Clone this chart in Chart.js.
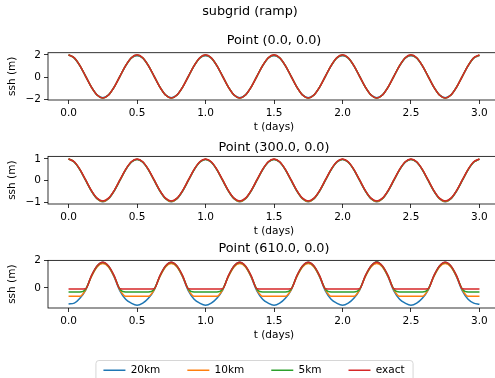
<!DOCTYPE html>
<html>
<head>
<meta charset="utf-8">
<script src="https://cdn.jsdelivr.net/npm/chart.js@4"></script>
<style>
  html, body { margin: 0; padding: 0; width: 495px; height: 378px; overflow: hidden; background: #fff; }
  canvas { position: absolute; }
</style>
</head>
<body>
<canvas id="p0" width="500" height="140" style="left:0px;top:0px"></canvas>
<canvas id="p1" width="500" height="104" style="left:0px;top:140px"></canvas>
<canvas id="p2" width="500" height="108" style="left:0px;top:240px"></canvas>
<canvas id="leg" width="480" height="80" style="left:14px;top:338px"></canvas>
<script>
// time axis (days)
const days = [
  0, 0.042, 0.083, 0.125, 0.167, 0.208, 0.25, 0.292, 0.333, 0.375, 0.417, 0.458,
  0.5, 0.542, 0.583, 0.625, 0.667, 0.708, 0.75, 0.792, 0.833, 0.875, 0.917, 0.958,
  1, 1.042, 1.083, 1.125, 1.167, 1.208, 1.25, 1.292, 1.333, 1.375, 1.417, 1.458,
  1.5, 1.542, 1.583, 1.625, 1.667, 1.708, 1.75, 1.792, 1.833, 1.875, 1.917, 1.958,
  2, 2.042, 2.083, 2.125, 2.167, 2.208, 2.25, 2.292, 2.333, 2.375, 2.417, 2.458,
  2.5, 2.542, 2.583, 2.625, 2.667, 2.708, 2.75, 2.792, 2.833, 2.875, 2.917, 2.958,
  3
];
const xTicks = [0, 0.5, 1, 1.5, 2, 2.5, 3];
const seriesNames = ['20km', '10km', '5km', 'exact'];
const panelTitles = ['Point (0.0, 0.0)', 'Point (300.0, 0.0)', 'Point (610.0, 0.0)'];
const yTicks0 = [-2, 0, 2];
const yTicks300 = [-1, 0, 1];
const yTicks610 = [0, 2];

// Point (0.0, 0.0)
const ssh0_20km = [
  2.0, 1.7, 1.02, 0.07, -0.89, -1.58, -1.84, -1.58, -0.89, 0.07, 1.02, 1.7,
  1.93, 1.7, 1.02, 0.07, -0.89, -1.58, -1.84, -1.58, -0.89, 0.07, 1.02, 1.7,
  1.93, 1.7, 1.02, 0.07, -0.89, -1.58, -1.84, -1.58, -0.89, 0.07, 1.02, 1.7,
  1.93, 1.7, 1.02, 0.07, -0.89, -1.58, -1.84, -1.58, -0.89, 0.07, 1.02, 1.7,
  1.93, 1.7, 1.02, 0.07, -0.89, -1.58, -1.84, -1.58, -0.89, 0.07, 1.02, 1.7,
  1.93, 1.7, 1.02, 0.07, -0.89, -1.58, -1.84, -1.58, -0.89, 0.07, 1.02, 1.7,
  1.93
];
const ssh0_10km = [
  2.0, 1.72, 1.03, 0.08, -0.89, -1.59, -1.85, -1.59, -0.89, 0.07, 1.03, 1.72,
  1.96, 1.72, 1.03, 0.08, -0.89, -1.59, -1.85, -1.59, -0.89, 0.07, 1.03, 1.72,
  1.96, 1.72, 1.03, 0.08, -0.89, -1.59, -1.85, -1.59, -0.89, 0.07, 1.03, 1.72,
  1.96, 1.72, 1.03, 0.08, -0.89, -1.59, -1.85, -1.59, -0.89, 0.07, 1.03, 1.72,
  1.96, 1.72, 1.03, 0.08, -0.89, -1.59, -1.85, -1.59, -0.89, 0.07, 1.03, 1.72,
  1.96, 1.72, 1.03, 0.08, -0.89, -1.59, -1.85, -1.59, -0.89, 0.07, 1.03, 1.72,
  1.96
];
const ssh0_5km = [
  2.0, 1.73, 1.04, 0.08, -0.89, -1.59, -1.85, -1.59, -0.89, 0.08, 1.03, 1.73,
  1.98, 1.73, 1.04, 0.08, -0.89, -1.59, -1.85, -1.59, -0.89, 0.08, 1.03, 1.73,
  1.98, 1.73, 1.04, 0.08, -0.89, -1.59, -1.85, -1.59, -0.89, 0.08, 1.03, 1.73,
  1.98, 1.73, 1.04, 0.08, -0.89, -1.59, -1.85, -1.59, -0.89, 0.08, 1.03, 1.73,
  1.98, 1.73, 1.04, 0.08, -0.89, -1.59, -1.85, -1.59, -0.89, 0.08, 1.03, 1.73,
  1.98, 1.73, 1.04, 0.08, -0.89, -1.59, -1.85, -1.59, -0.89, 0.08, 1.03, 1.73,
  1.97
];
const ssh0_exact = [
  2.0, 1.74, 1.04, 0.08, -0.89, -1.59, -1.85, -1.59, -0.89, 0.08, 1.04, 1.74,
  2.0, 1.74, 1.04, 0.08, -0.89, -1.59, -1.85, -1.59, -0.89, 0.08, 1.04, 1.74,
  2.0, 1.74, 1.04, 0.08, -0.89, -1.59, -1.85, -1.59, -0.89, 0.08, 1.04, 1.74,
  2.0, 1.74, 1.04, 0.08, -0.89, -1.59, -1.85, -1.59, -0.89, 0.08, 1.04, 1.74,
  2.0, 1.74, 1.04, 0.08, -0.89, -1.59, -1.85, -1.59, -0.89, 0.08, 1.04, 1.74,
  2.0, 1.74, 1.04, 0.08, -0.89, -1.59, -1.85, -1.59, -0.89, 0.08, 1.04, 1.74,
  2.0
];

// Point (300.0, 0.0)
const ssh300_20km = [
  1.0, 0.85, 0.5, 0.01, -0.48, -0.84, -0.98, -0.84, -0.48, 0.01, 0.5, 0.85,
  0.98, 0.85, 0.5, 0.01, -0.48, -0.84, -0.98, -0.84, -0.48, 0.01, 0.5, 0.85,
  0.98, 0.85, 0.5, 0.01, -0.48, -0.84, -0.98, -0.84, -0.48, 0.01, 0.5, 0.85,
  0.98, 0.85, 0.5, 0.01, -0.48, -0.84, -0.98, -0.84, -0.48, 0.01, 0.5, 0.85,
  0.98, 0.85, 0.5, 0.01, -0.48, -0.84, -0.98, -0.84, -0.48, 0.01, 0.5, 0.85,
  0.98, 0.85, 0.5, 0.01, -0.48, -0.84, -0.98, -0.84, -0.48, 0.01, 0.5, 0.85,
  0.98
];
const ssh300_10km = [
  1.0, 0.86, 0.51, 0.02, -0.47, -0.83, -0.96, -0.83, -0.47, 0.02, 0.51, 0.86,
  0.99, 0.86, 0.51, 0.02, -0.47, -0.83, -0.96, -0.83, -0.47, 0.02, 0.51, 0.86,
  0.99, 0.86, 0.51, 0.02, -0.47, -0.83, -0.96, -0.83, -0.47, 0.02, 0.51, 0.86,
  0.99, 0.86, 0.51, 0.02, -0.47, -0.83, -0.96, -0.83, -0.47, 0.02, 0.51, 0.86,
  0.99, 0.86, 0.51, 0.02, -0.47, -0.83, -0.96, -0.83, -0.47, 0.02, 0.51, 0.86,
  0.99, 0.86, 0.51, 0.02, -0.47, -0.83, -0.96, -0.83, -0.47, 0.02, 0.51, 0.86,
  0.99
];
const ssh300_5km = [
  1.0, 0.86, 0.51, 0.02, -0.47, -0.82, -0.95, -0.82, -0.47, 0.02, 0.51, 0.86,
  0.99, 0.86, 0.51, 0.02, -0.47, -0.82, -0.95, -0.82, -0.47, 0.02, 0.51, 0.86,
  0.99, 0.86, 0.51, 0.02, -0.47, -0.82, -0.95, -0.82, -0.47, 0.02, 0.51, 0.86,
  0.99, 0.86, 0.51, 0.02, -0.47, -0.82, -0.95, -0.82, -0.47, 0.02, 0.51, 0.86,
  0.99, 0.86, 0.51, 0.02, -0.47, -0.82, -0.95, -0.82, -0.47, 0.02, 0.51, 0.86,
  0.99, 0.86, 0.51, 0.02, -0.47, -0.82, -0.95, -0.82, -0.47, 0.02, 0.51, 0.86,
  0.99
];
const ssh300_exact = [
  1.0, 0.87, 0.52, 0.03, -0.46, -0.81, -0.94, -0.81, -0.46, 0.03, 0.52, 0.87,
  1.0, 0.87, 0.52, 0.03, -0.46, -0.81, -0.94, -0.81, -0.46, 0.03, 0.52, 0.87,
  1.0, 0.87, 0.52, 0.03, -0.46, -0.81, -0.94, -0.81, -0.46, 0.03, 0.52, 0.87,
  1.0, 0.87, 0.52, 0.03, -0.46, -0.81, -0.94, -0.81, -0.46, 0.03, 0.52, 0.87,
  1.0, 0.87, 0.52, 0.03, -0.46, -0.81, -0.94, -0.81, -0.46, 0.03, 0.52, 0.87,
  1.0, 0.87, 0.52, 0.03, -0.46, -0.81, -0.94, -0.81, -0.46, 0.03, 0.52, 0.87,
  1.0
];

// Point (610.0, 0.0)
const ssh610_20km = [
  -1.16, -1.1, -0.75, -0.15, 0.85, 1.57, 1.86, 1.55, 0.8, -0.22, -0.82, -1.1,
  -1.25, -1.1, -0.75, -0.15, 0.85, 1.57, 1.86, 1.55, 0.8, -0.22, -0.82, -1.1,
  -1.25, -1.1, -0.75, -0.15, 0.85, 1.57, 1.86, 1.55, 0.8, -0.22, -0.82, -1.1,
  -1.25, -1.1, -0.75, -0.15, 0.85, 1.57, 1.86, 1.55, 0.8, -0.22, -0.82, -1.1,
  -1.25, -1.1, -0.75, -0.15, 0.85, 1.57, 1.9, 1.55, 0.8, -0.22, -0.82, -1.1,
  -1.25, -1.1, -0.75, -0.15, 0.85, 1.57, 1.86, 1.55, 0.8, -0.22, -0.82, -1.1,
  -1.18
];
const ssh610_10km = [
  -0.6, -0.6, -0.6, -0.13, 0.82, 1.52, 1.77, 1.52, 0.82, -0.13, -0.6, -0.6,
  -0.6, -0.6, -0.6, -0.13, 0.82, 1.52, 1.77, 1.52, 0.82, -0.13, -0.6, -0.6,
  -0.6, -0.6, -0.6, -0.13, 0.82, 1.52, 1.77, 1.52, 0.82, -0.13, -0.6, -0.6,
  -0.6, -0.6, -0.6, -0.13, 0.82, 1.52, 1.77, 1.52, 0.82, -0.13, -0.6, -0.6,
  -0.6, -0.6, -0.6, -0.13, 0.82, 1.52, 1.77, 1.52, 0.82, -0.13, -0.6, -0.6,
  -0.6, -0.6, -0.6, -0.13, 0.82, 1.52, 1.77, 1.52, 0.82, -0.13, -0.6, -0.6,
  -0.6
];
const ssh610_5km = [
  -0.29, -0.29, -0.29, -0.08, 0.87, 1.57, 1.84, 1.57, 0.87, -0.08, -0.29, -0.29,
  -0.29, -0.29, -0.29, -0.08, 0.87, 1.57, 1.84, 1.57, 0.87, -0.08, -0.29, -0.29,
  -0.29, -0.29, -0.29, -0.08, 0.87, 1.57, 1.84, 1.57, 0.87, -0.08, -0.29, -0.29,
  -0.29, -0.29, -0.29, -0.08, 0.87, 1.57, 1.84, 1.57, 0.87, -0.08, -0.29, -0.29,
  -0.29, -0.29, -0.29, -0.08, 0.87, 1.57, 1.88, 1.57, 0.87, -0.08, -0.29, -0.29,
  -0.29, -0.29, -0.29, -0.08, 0.87, 1.57, 1.84, 1.57, 0.87, -0.08, -0.29, -0.29,
  -0.29
];
const ssh610_exact = [
  -0.07, -0.07, -0.07, -0.05, 0.9, 1.6, 1.86, 1.6, 0.9, -0.05, -0.07, -0.07,
  -0.07, -0.07, -0.07, -0.05, 0.9, 1.6, 1.86, 1.6, 0.9, -0.05, -0.07, -0.07,
  -0.07, -0.07, -0.07, -0.05, 0.9, 1.6, 1.86, 1.6, 0.9, -0.05, -0.07, -0.07,
  -0.07, -0.07, -0.07, -0.05, 0.9, 1.6, 1.86, 1.6, 0.9, -0.05, -0.07, -0.07,
  -0.07, -0.07, -0.07, -0.05, 0.9, 1.6, 1.86, 1.6, 0.9, -0.05, -0.07, -0.07,
  -0.07, -0.07, -0.07, -0.05, 0.9, 1.6, 1.86, 1.6, 0.9, -0.05, -0.07, -0.07,
  -0.07
];

Chart.defaults.font.family = "'DejaVu Sans', sans-serif";
Chart.defaults.font.size = 10.5;
Chart.defaults.color = '#000';

const colors = ['#1f77b4', '#ff7f0e', '#2ca02c', '#d62728'];
const titleFont = { size: 12.8, weight: 'normal' };

// box around each axes (matplotlib spines)
const frame = {
  id: 'frame',
  afterDraw(chart) {
    const { ctx, chartArea: a } = chart;
    ctx.save();
    ctx.strokeStyle = '#000';
    ctx.lineWidth = 0.8;
    ctx.strokeRect(a.left, a.top, a.right - a.left, a.bottom - a.top);
    ctx.restore();
  }
};

function makePanel(id, lines, yMin, yMax, yTicks, plugins) {
  const datasets = seriesNames.map((name, i) => ({
    label: name,
    data: days.map((d, k) => ({ x: d, y: lines[i][k] })),
    borderColor: colors[i],
    backgroundColor: colors[i],
    borderWidth: 1.5,
    pointRadius: 0,
    cubicInterpolationMode: 'monotone',
    order: seriesNames.length - 1 - i
  }));
  return new Chart(document.getElementById(id), {
    type: 'line',
    data: { datasets },
    options: {
      responsive: false,
      animation: false,
      events: [],
      layout: { padding: 0 },
      plugins: Object.assign({ legend: { display: false }, tooltip: { enabled: false } }, plugins),
      scales: {
        x: {
          type: 'linear', min: -0.15, max: 3.15,
          afterBuildTicks: s => { s.ticks = xTicks.map(v => ({ value: v })); },
          afterFit: s => { s.height = 40; },
          grid: { drawOnChartArea: false, tickLength: 4, color: '#000', lineWidth: 0.8 },
          border: { display: false },
          ticks: { padding: 3, maxRotation: 0, callback: v => v.toFixed(1) },
          title: { display: true, text: 't (days)', padding: { top: 0, bottom: 6 } }
        },
        y: {
          min: yMin, max: yMax,
          afterBuildTicks: s => { s.ticks = yTicks.map(v => ({ value: v })); },
          afterFit: s => { s.width = 48; },
          grid: { drawOnChartArea: false, tickLength: 4, color: '#000', lineWidth: 0.8 },
          border: { display: false },
          ticks: { padding: 3, callback: v => (v < 0 ? '\u2212' + Math.abs(v) : String(v)) },
          title: { display: true, text: 'ssh (m)', padding: { top: 6, bottom: 0 } }
        }
      }
    },
    plugins: [frame]
  });
}

makePanel('p0', [ssh0_20km, ssh0_10km, ssh0_5km, ssh0_exact], -2.04, 2.19, yTicks0, {
  title: { display: true, text: 'subgrid (ramp)', font: titleFont, padding: { top: 4, bottom: 12 } },
  subtitle: { display: true, text: panelTitles[0], fullSize: false, font: titleFont, color: '#000', padding: { top: 2, bottom: 4 } }
});
makePanel('p1', [ssh300_20km, ssh300_10km, ssh300_5km, ssh300_exact], -1.08, 1.12, yTicks300, {
  title: { display: true, text: panelTitles[1], fullSize: false, font: titleFont, padding: { top: 0, bottom: 1 } }
});
makePanel('p2', [ssh610_20km, ssh610_10km, ssh610_5km, ssh610_exact], -1.45, 2.0, yTicks610, {
  title: { display: true, text: panelTitles[2], fullSize: false, font: titleFont, padding: { top: 1, bottom: 4 } }
});

// legend frame, drawn behind the legend entries
const legendFrame = {
  id: 'legendFrame',
  beforeDraw(chart) {
    const boxes = chart.legend.legendHitBoxes;
    if (!boxes || !boxes.length) return;
    const first = boxes[0], last = boxes[boxes.length - 1];
    const x0 = first.left - 8, x1 = last.left + last.width + 8;
    const y0 = first.top - 5, y1 = first.top + first.height + 20;
    const ctx = chart.ctx;
    ctx.save();
    ctx.beginPath();
    if (ctx.roundRect) ctx.roundRect(x0 + 0.5, y0 + 0.5, x1 - x0, y1 - y0, 3);
    else ctx.rect(x0 + 0.5, y0 + 0.5, x1 - x0, y1 - y0);
    ctx.fillStyle = 'rgba(255,255,255,0.8)';
    ctx.fill();
    ctx.strokeStyle = '#d6d6d6';
    ctx.lineWidth = 1;
    ctx.stroke();
    ctx.restore();
  }
};

new Chart(document.getElementById('leg'), {
  type: 'line',
  data: {
    datasets: seriesNames.map((name, i) => ({
      label: name, data: [], borderColor: colors[i], backgroundColor: colors[i], borderWidth: 1.5
    }))
  },
  options: {
    responsive: false,
    animation: false,
    events: [],
    scales: { x: { display: false }, y: { display: false } },
    plugins: {
      tooltip: { enabled: false },
      legend: {
        display: true, position: 'top',
        labels: { usePointStyle: true, pointStyle: 'line', pointStyleWidth: 22, padding: 27, font: { size: 10.5 }, color: '#000' }
      }
    }
  },
  plugins: [legendFrame]
});
</script>
</body>
</html>
